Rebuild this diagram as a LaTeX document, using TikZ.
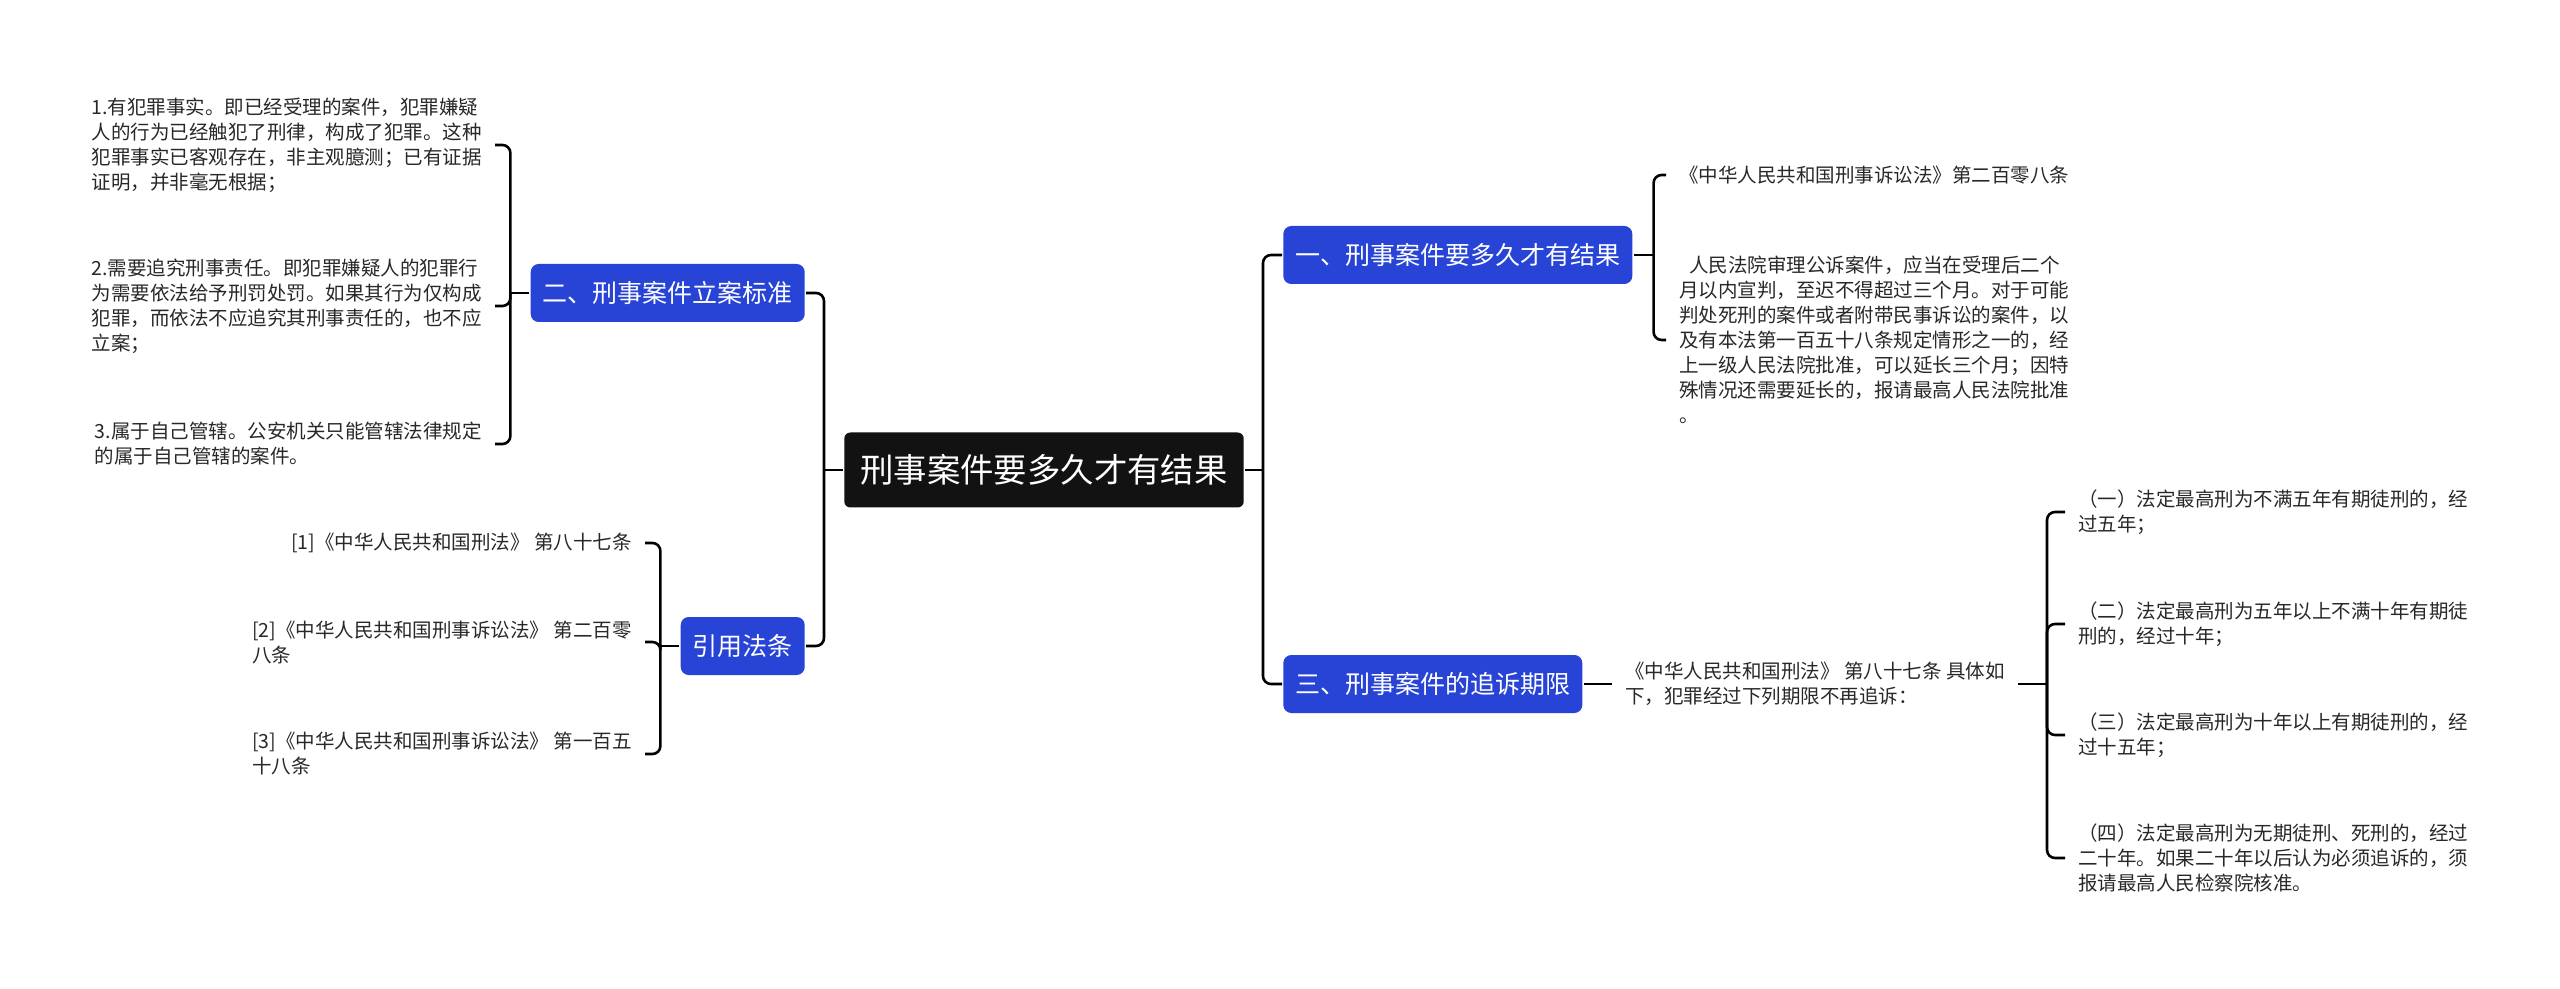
\documentclass[tikz,border=0pt]{standalone}
\usepackage{fontspec}
\setmainfont{Noto Sans CJK SC}
\usetikzlibrary{calc}
\definecolor{topicblue}{RGB}{40,68,214}
\definecolor{leafgray}{RGB}{40,40,40}

\begin{document}
\begin{tikzpicture}[x=0.5pt,y=-0.5pt,line width=1.3pt,
                    root/.style={rectangle,rounded corners=3pt,fill=black!93,text=white,
                                 font=\fontsize{16.7pt}{20pt}\selectfont,
                                 inner xsep=8pt,minimum height=37.5pt},
                    topic/.style={rectangle,rounded corners=4pt,fill=topicblue,text=white,
                                  font=\fontsize{12.5pt}{15pt}\selectfont,
                                  inner xsep=6pt,minimum height=29pt},
                    leaf/.style={align=left,text=leafgray,inner xsep=6pt,inner ysep=0pt,
                                 font=\fontsize{9.75pt}{12.5pt}\selectfont},
                    link/.style={rounded corners=4pt}]

  \path[fill=white,use as bounding box] (0,0) rectangle (2560,989);

  \node[root]               (0) at (1044,470) {刑事案件要多久才有结果};
  \node[topic,anchor=west]  (1) at (1282,255) {一、刑事案件要多久才有结果};
  \node[topic,anchor=east]  (2) at (806,293)  {二、刑事案件立案标准};
  \node[topic,anchor=west]  (3) at (1282,684) {三、刑事案件的追诉期限};
  \node[topic,anchor=east]  (4) at (806,646)  {引用法条};

  % right side
  \node[leaf,anchor=west] (11) at (1666,175) {《中华人民共和国刑事诉讼法》第二百零八条};
  \node[leaf,anchor=west] (12) at (1666,340)
    {\hspace*{5pt}人民法院审理公诉案件，应当在受理后二个\\
     月以内宣判，至迟不得超过三个月。对于可能\\
     判处死刑的案件或者附带民事诉讼的案件，以\\
     及有本法第一百五十八条规定情形之一的，经\\
     上一级人民法院批准，可以延长三个月；因特\\
     殊情况还需要延长的，报请最高人民法院批准\\
     。};
  \node[leaf,anchor=west] (30) at (1612,684)
    {《中华人民共和国刑法》 第八十七条 具体如\\
     下，犯罪经过下列期限不再追诉：};
  \node[leaf,anchor=west] (31) at (2065,512)
    {（一）法定最高刑为不满五年有期徒刑的，经\\过五年；};
  \node[leaf,anchor=west] (32) at (2065,624)
    {（二）法定最高刑为五年以上不满十年有期徒\\刑的，经过十年；};
  \node[leaf,anchor=west] (33) at (2065,735)
    {（三）法定最高刑为十年以上有期徒刑的，经\\过十五年；};
  \node[leaf,anchor=west] (34) at (2065,858)
    {（四）法定最高刑为无期徒刑、死刑的，经过\\
     二十年。如果二十年以后认为必须追诉的，须\\
     报请最高人民检察院核准。};

  % left side
  \node[leaf,anchor=east] (21) at (495,145)
    {1.有犯罪事实。即已经受理的案件，犯罪嫌疑\\
     人的行为已经触犯了刑律，构成了犯罪。这种\\
     犯罪事实已客观存在，非主观臆测；已有证据\\
     证明，并非毫无根据；};
  \node[leaf,anchor=east] (22) at (495,306)
    {2.需要追究刑事责任。即犯罪嫌疑人的犯罪行\\
     为需要依法给予刑罚处罚。如果其行为仅构成\\
     犯罪，而依法不应追究其刑事责任的，也不应\\
     立案；};
  \node[leaf,anchor=east] (23) at (495,444)
    {3.属于自己管辖。公安机关只能管辖法律规定\\
     的属于自己管辖的案件。};
  \node[leaf,anchor=east] (41) at (645,543) {[1]《中华人民共和国刑法》 第八十七条};
  \node[leaf,anchor=east] (42) at (645,642)
    {[2]《中华人民共和国刑事诉讼法》 第二百零\\八条};
  \node[leaf,anchor=east] (43) at (645,754)
    {[3]《中华人民共和国刑事诉讼法》 第一百五\\十八条};

  \draw (0.east) -- ++(18,0) coordinate (0r);
  \draw[link] (0r) |- (1.west);
  \draw[link] (0r) |- (3.west);
  \draw (0.west) -- ++(-19,0) coordinate (0l);
  \draw[link] (0l) |- (2.east);
  \draw[link] (0l) |- (4.east);

  \draw (1.east) -- ++(20,0) coordinate (1j);
  \foreach \n in {11,12} \draw[link] (1j) |- (\n.west);

  \draw (3.east) -- (30.west);
  \coordinate (30j) at (2047,684);
  \draw (30.east) -- (30j);
  \foreach \n in {31,32,33,34} \draw[link] (30j) |- (\n.west);

  \draw (2.west) -- ++(-19,0) coordinate (2j);
  \foreach \n in {21,22,23} \draw[link] (2j) |- (\n.east);

  \draw (4.west) -- ++(-19,0) coordinate (4j);
  \foreach \n in {41,42,43} \draw[link] (4j) |- (\n.east);
\end{tikzpicture}
\end{document}
